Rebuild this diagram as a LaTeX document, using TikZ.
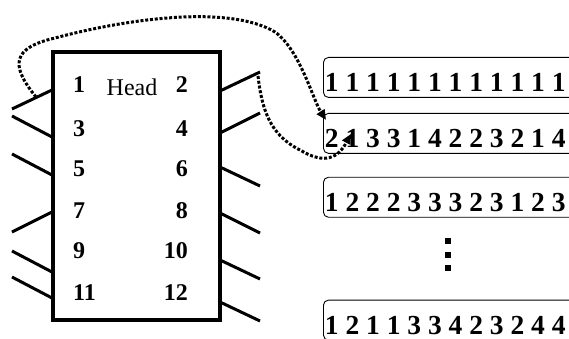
\documentclass[tikz,border=0pt]{standalone}
\usepackage{fontspec}
\setmainfont{Liberation Serif}
\usetikzlibrary{positioning, arrows.meta}
\tikzset{
    >={Triangle[length=10pt, width=9pt]},
    chip/.style={draw, line width=3.3pt, minimum width=167pt, minimum height=268pt, inner sep=0pt},
    leg/.style={line width=3pt},
    pin/.style={font=\fontsize{24}{26}\selectfont\bfseries, inner sep=0pt},
    row/.style={draw, line width=0.9pt, rounded corners=5pt, anchor=north west,
        text width=290pt, align=flush left, minimum height=40pt, inner ysep=0pt, inner xsep=1.5pt,
        text height=28pt, text depth=0pt,
        font=\fontsize{27.5}{30}\selectfont\bfseries},
    link/.style={->, line width=3pt, dash pattern=on 3pt off 1.8pt},
}

\begin{document}
\begin{tikzpicture}[x=1pt, y=-1pt]
\useasboundingbox (0,0) rectangle (569,339);
\clip (0,0) rectangle (569,339);

% the head with its twelve pins
\node[chip] (head) at (136.5,186) {};
\node[font=\fontsize{24}{26}\selectfont, inner sep=0pt, anchor=base] (title) at (132,96) {Head};
\foreach \num/\y in {1/93, 3/137, 5/176, 7/218, 9/258, 11/300}
    \node[pin, anchor=base west] (n\num) at (73,\y) {\num};
\foreach \num/\y in {2/93, 4/137, 6/176, 8/218, 10/258, 12/300}
    \node[pin, anchor=base east] (n\num) at (188,\y) {\num};

% legs
\foreach \ya/\yb in {90/109, 137/116, 175/154, 212/232, 272/251, 298/277}
    \draw[leg] (52,\ya) -- (12,\yb);
\foreach \ya/\yb in {91/72, 133/113, 167/186, 213/233, 260/279, 302/321}
    \draw[leg] (220,\ya) -- (260,\yb);

\coordinate (p1) at (36,97);
\coordinate (p2) at (258,76);

% rows
\node[row] (r1) at (323,57) {1 1 1 1 1 1 1 1 1 1 1 1};
\node[row, below=15pt of r1] (r2) {2 1 3 3 1 4 2 2 3 2 1 4};
\node[row, below=23pt of r2] (r3) {1 2 2 2 3 3 3 2 3 1 2 3};
\node[row, below=82pt of r3] (r4) {1 2 1 1 3 3 4 2 3 2 4 4};

\foreach \y in {241, 255, 268}
    \fill (445,\y-3) rectangle ++(6,6);

\coordinate (t1) at ([shift={(3pt,-7pt)}]r2.north west);
\coordinate (t2) at ([shift={(28pt,-21pt)}]r2.north west);

\draw[link] (p1) .. controls (10,65) and (12,48) .. (55,38)
    .. controls (130,18) and (230,5) .. (275,32)
    .. controls (300,50) and (313,100) .. (t1);
\draw[link] (p2) .. controls (262,110) and (270,135) .. (300,150)
    .. controls (325,165) and (338,158) .. (t2);

\end{tikzpicture}
\end{document}
